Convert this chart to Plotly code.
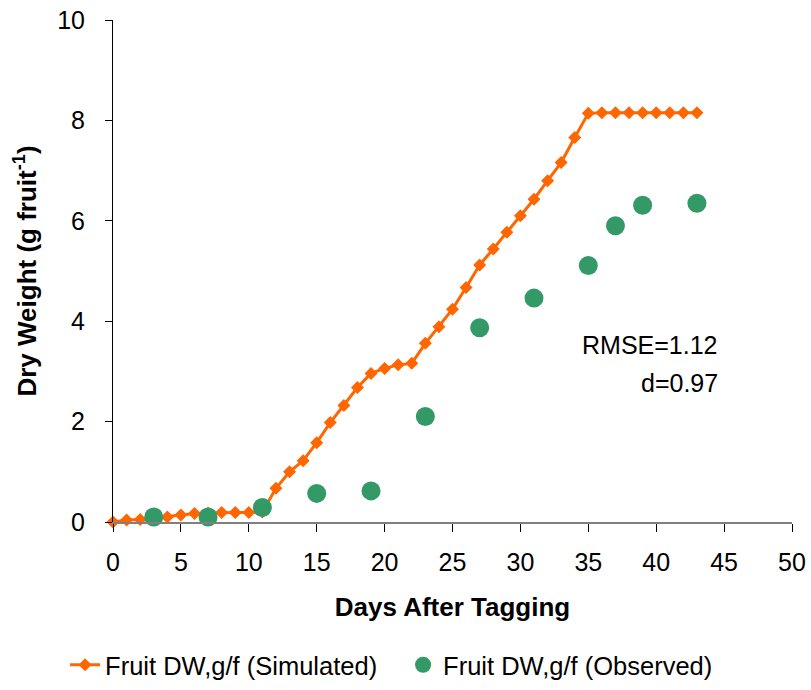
import plotly.graph_objects as go

sim_days = list(range(0, 44))
sim_dw = [0.00, 0.04, 0.05, 0.08, 0.10, 0.14, 0.17, 0.18, 0.19, 0.19, 0.19, 0.20,
          0.67, 1.00, 1.22, 1.58, 1.98, 2.32, 2.68, 2.96, 3.06, 3.13, 3.16, 3.56,
          3.89, 4.24, 4.67, 5.12, 5.44, 5.77, 6.10, 6.43, 6.80, 7.16, 7.66, 8.14,
          8.15, 8.15, 8.15, 8.15, 8.15, 8.15, 8.15, 8.15]

obs_days = [3, 7, 11, 15, 19, 23, 27, 31, 35, 37, 39, 43]
obs_dw = [0.10, 0.10, 0.29, 0.57, 0.62, 2.10, 3.87, 4.46, 5.11, 5.90, 6.31, 6.35]

x_ticks = [0, 5, 10, 15, 20, 25, 30, 35, 40, 45, 50]
y_ticks = [0, 2, 4, 6, 8, 10]

FONT = "Liberation Sans, Arial, sans-serif"

fig = go.Figure()
fig.add_trace(go.Scatter(
    x=sim_days, y=sim_dw, mode="lines+markers",
    name="Fruit DW,g/f (Simulated)",
    line=dict(color="#FF6600", width=3),
    marker=dict(symbol="diamond", size=10, color="#FF6600"),
    cliponaxis=False,
))
fig.add_trace(go.Scatter(
    x=obs_days, y=obs_dw, mode="markers",
    name="Fruit DW,g/f (Observed)",
    marker=dict(symbol="circle", size=19, color="#339966"),
    cliponaxis=False,
))

fig.update_layout(
    width=811, height=690,
    margin=dict(l=113, r=19, t=20, b=168),
    paper_bgcolor="white", plot_bgcolor="white",
    font=dict(family=FONT, size=24, color="black"),
    showlegend=True,
    legend=dict(orientation="h", xref="container", yref="container",
                x=0.497, xanchor="center", y=0.036, yanchor="middle",
                font=dict(size=25.5, family=FONT), itemsizing="trace",
                entrywidth=293, entrywidthmode="pixels",
                tracegroupgap=0),
    xaxis=dict(range=[0, 50], tickvals=x_ticks, showgrid=False, zeroline=False,
               showline=True, linecolor="#808080", linewidth=2,
               ticks="outside", ticklen=8, tickcolor="black", tickwidth=1,
               tickfont=dict(size=25), ticklabelstandoff=9, automargin=False,
               title=dict(text="<b>Days After Tagging</b>", font=dict(size=26), standoff=23)),
    yaxis=dict(range=[0, 10], tickvals=y_ticks, showgrid=False, zeroline=False,
               showline=True, linecolor="black", linewidth=1,
               ticks="outside", ticklen=7, tickcolor="black", tickwidth=1,
               tickfont=dict(size=25), ticklabelstandoff=15, automargin=False,
               title=dict(text="<b>Dry Weight (g fruit<sup>-1</sup>)</b>", font=dict(size=26), standoff=13)),
)

fig.add_annotation(x=44.7, y=3.53, xref="x", yref="y", text="RMSE=1.12",
                   showarrow=False, xanchor="right", yanchor="middle",
                   font=dict(size=25, color="black", family=FONT))
fig.add_annotation(x=44.7, y=2.77, xref="x", yref="y", text="d=0.97",
                   showarrow=False, xanchor="right", yanchor="middle",
                   font=dict(size=25, color="black", family=FONT))

fig.write_html("out.html", config={"displayModeBar": False},
               post_script="document.body.style.margin='0';")
